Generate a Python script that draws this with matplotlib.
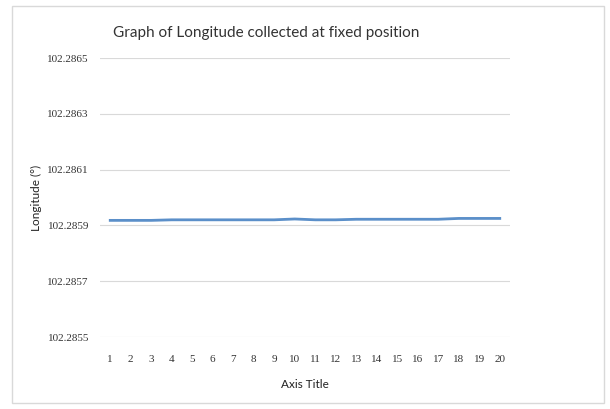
import matplotlib.pyplot as plt
from matplotlib.patches import Rectangle

# data
samples = list(range(1, 21))
longitude = [102.285918, 102.285918, 102.285918, 102.285920, 102.285920,
             102.285920, 102.285920, 102.285920, 102.285920, 102.285923,
             102.285920, 102.285920, 102.285922, 102.285922, 102.285922,
             102.285922, 102.285922, 102.285925, 102.285925, 102.285925]
y_ticks = [102.2855, 102.2857, 102.2859, 102.2861, 102.2863, 102.2865]

fig = plt.figure(figsize=(6.1, 4.09), dpi=100)
# outer chart border
fig.patches.append(Rectangle((12/610, 6/409), 592/610, 397/409, transform=fig.transFigure,
                             fill=False, edgecolor='#d9d9d9', linewidth=1))

ax = fig.add_axes([100/610, 1 - 337/409, 410/610, 279/409])
ax.plot(samples, longitude, color='#5b8fc9', linewidth=2)

ax.set_xlim(0.5, 20.5)
ax.set_ylim(102.2855, 102.2865)
ax.set_yticks(y_ticks)
ax.set_yticklabels(['%.4f' % v for v in y_ticks], fontfamily='Liberation Serif', fontsize=8)
ax.set_xticks(samples)
ax.set_xticklabels([str(s) for s in samples], fontfamily='Liberation Serif', fontsize=8)
ax.tick_params(length=0, pad=8, axis='y', labelcolor='#333333')
ax.tick_params(length=0, pad=13, axis='x', labelcolor='#333333')
ax.grid(axis='y', color='#d9d9d9', linewidth=0.8)
ax.set_axisbelow(True)
for s in ax.spines.values():
    s.set_visible(False)

ax.set_xlabel('Axis Title', fontfamily='Lato', fontsize=8.5, labelpad=11, color='#222222')
ax.set_ylabel('Longitude (°)', fontfamily='Lato', fontsize=8.5, labelpad=4, color='#222222')
fig.text(0.437, 1 - 33/409, 'Graph of Longitude collected at fixed position',
         fontfamily='Lato', fontsize=11, ha='center', va='center', color='#333333')

fig.savefig('out.png', dpi=100)
